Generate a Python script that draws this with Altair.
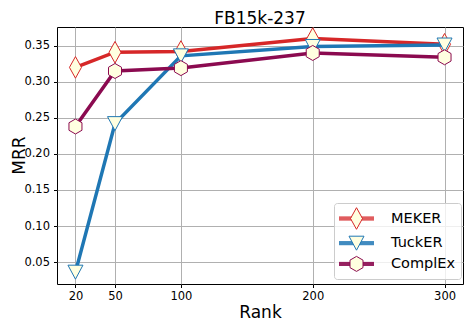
import altair as alt
import pandas as pd

ranks = [20, 50, 100, 200, 300]
models = ["MEKER", "TuckER", "ComplEx"]
meker = [0.320, 0.341, 0.342, 0.360, 0.352]
tucker = [0.036, 0.242, 0.336, 0.349, 0.351]
complex_ = [0.238, 0.315, 0.319, 0.340, 0.334]
colors = ["#d62728", "#1f77b4", "#8b0a50"]
x_ticks = [20, 50, 100, 200, 300]
y_ticks = [0.05, 0.10, 0.15, 0.20, 0.25, 0.30, 0.35]

FONT = "DejaVu Sans"
FILL = "#ffffe0"
DIAMOND = "M0,-1.08L0.6,0L0,1.08L-0.6,0Z"
TRI_DOWN = "M-0.75,-0.7L0.75,-0.7L0,0.7Z"
HEXAGON = "M0,-0.75L0.65,-0.375L0.65,0.375L0,0.75L-0.65,0.375L-0.65,-0.375Z"
shapes = [DIAMOND, TRI_DOWN, HEXAGON]

# legend symbols: thick handle line (4 parallel 1px strokes) + marker
BAND = [-0.15, -0.05, 0.05, 0.15]


def handle(marker, halfw):
    segs = "".join(
        f"M-1.75,{yy}L{-hw},{yy}M{hw},{yy}L1.75,{yy}" for yy, hw in zip(BAND, halfw)
    )
    return segs + marker


legend_shapes = [
    handle(DIAMOND, [0.517, 0.572, 0.572, 0.517]),
    handle(TRI_DOWN, [0.455, 0.402, 0.348, 0.295]),
    handle(HEXAGON, [0.65, 0.65, 0.65, 0.65]),
]

rows = []
for m, vals in zip(models, [meker, tucker, complex_]):
    for r, v in zip(ranks, vals):
        rows.append({"model": m, "rank": r, "mrr": v})
df = pd.DataFrame(rows)

x = alt.X("rank:Q", scale=alt.Scale(domain=[6, 314], nice=False, zero=False),
          axis=alt.Axis(values=x_ticks, format="d", title="Rank",
                        labelPadding=3, titlePadding=2))
y = alt.Y("mrr:Q", scale=alt.Scale(domain=[0.0196, 0.376], nice=False, zero=False),
          axis=alt.Axis(values=y_ticks, format=".2f", title="MRR",
                        labelPadding=4, titleX=-33, titleY=128,
                        titleBaseline="alphabetic"))

legend = alt.Legend(title=None, orient="none", legendX=277, legendY=176, padding=5,
                    rowPadding=0.7, labelFont=FONT, labelFontSize=14.5,
                    labelColor="black", labelOffset=24, symbolOffset=7,
                    direction="vertical", symbolSize=400, symbolStrokeWidth=1,
                    symbolOpacity=1, symbolFillColor=FILL,
                    fillColor="rgba(255,255,255,0.8)", strokeColor="#cccccc",
                    cornerRadius=3)

layers = []
for m, shp in zip(models, shapes):
    base = alt.Chart(df).transform_filter(alt.datum.model == m)
    cs = alt.Scale(domain=models, range=colors)
    layers.append(base.mark_line(strokeWidth=3.5).encode(
        x=x, y=y, color=alt.Color("model:N", scale=cs, legend=None)))
    layers.append(base.mark_point(shape=shp, filled=False, fill=FILL, fillOpacity=1,
                                  strokeWidth=1, size=400, opacity=1).encode(
        x=x, y=y, color=alt.Color("model:N", scale=cs, legend=None)))

# invisible layer that only carries the legend
layers.append(alt.Chart(df).mark_point(filled=False, fill=FILL, strokeWidth=1, size=400,
                                       opacity=0).encode(
    x=x, y=y,
    color=alt.Color("model:N", scale=alt.Scale(domain=models, range=colors), legend=legend),
    shape=alt.Shape("model:N", scale=alt.Scale(domain=models, range=legend_shapes),
                    legend=legend)))

chart = alt.layer(*layers).resolve_scale(
    color="independent", shape="independent"
).properties(
    width=406, height=257,
    title=alt.TitleParams(text="FB15k-237", font=FONT, fontSize=17, fontWeight="normal",
                          color="black", offset=0, dy=2, anchor="middle"),
    autosize=alt.AutoSizeParams(type="none"),
    padding={"left": 49, "top": 19, "right": 1, "bottom": 40},
).configure_axis(
    labelFont=FONT, labelFontSize=11.5, labelColor="black",
    tickColor="black", tickSize=3.5, tickWidth=1, domain=False,
    gridColor="#b0b0b0", gridWidth=1,
    titleFont=FONT, titleFontSize=17, titleFontWeight="normal", titleColor="black",
).configure_view(stroke="black", strokeWidth=1)

chart.save("out.html", embed_options={"renderer": "svg", "actions": False})
